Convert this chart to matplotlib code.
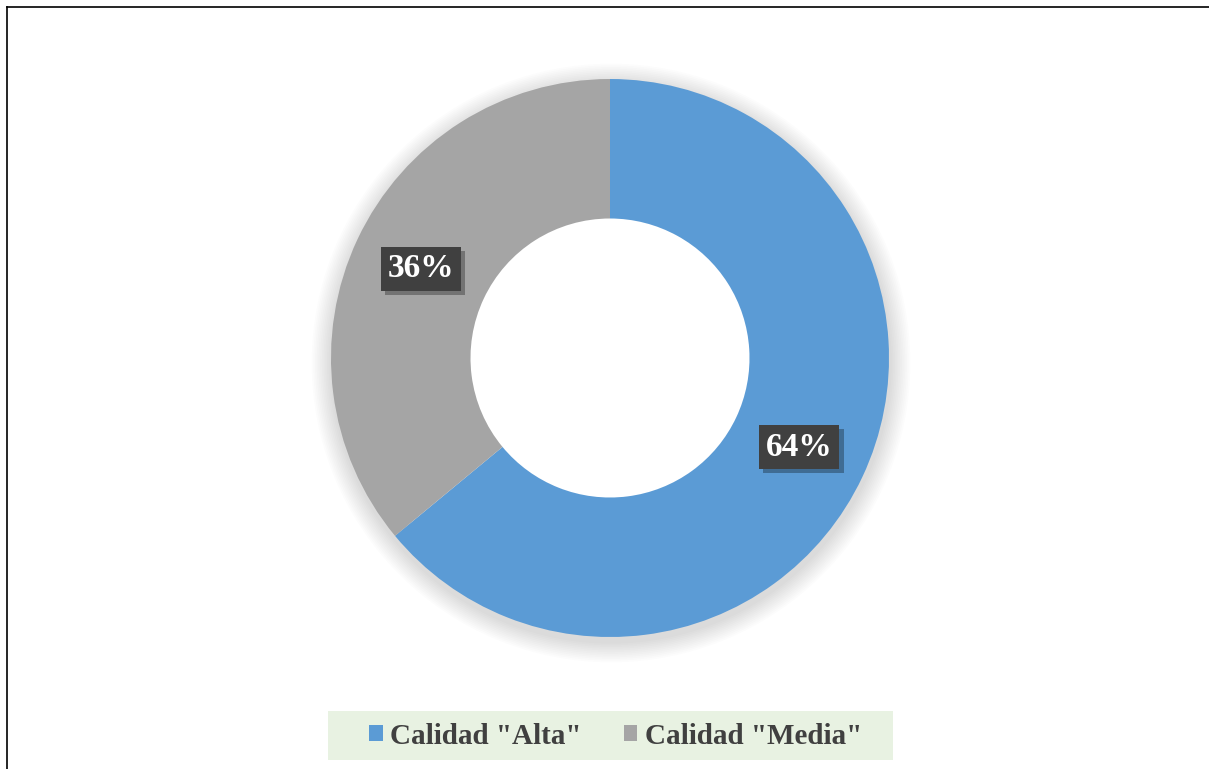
import matplotlib
matplotlib.use('Agg')
import matplotlib.pyplot as plt
import matplotlib.patheffects as pe
from matplotlib.lines import Line2D
from matplotlib.patches import Wedge, Patch, Rectangle

# Data
labels = ['Calidad "Alta"', 'Calidad "Media"']
values = [64, 36]
colors = ['#5B9BD5', '#A5A5A5']

W, H = 1209, 769
fig = plt.figure(figsize=(W / 100, H / 100), dpi=100)
fig.patch.set_facecolor('white')
ax = fig.add_axes([0, 0, 1, 1])

cx, cy = 610, H - 358
R = 279

# Soft shadow outside the ring (slightly below)
for k in range(12, 0, -1):
    ax.add_patch(Wedge((cx + 1, cy - 5), R + k * 1.7, 0, 360, width=k * 1.7 + 20,
                       facecolor='black', edgecolor='none', alpha=0.010, zorder=1))

wedges, texts, autotexts = ax.pie(
    values, colors=colors, startangle=90, counterclock=False,
    radius=R, center=(cx, cy), frame=True,
    wedgeprops=dict(width=R * 0.5, edgecolor='none'),
    autopct='%1.0f%%', pctdistance=0.75,
)
for w in wedges:
    w.set_zorder(2)

for t in autotexts:
    t.set_fontfamily('Liberation Serif')
    t.set_fontweight('bold')
    t.set_fontsize(24)
    t.set_color('white')
    t.set_zorder(5)
    t.set_bbox(dict(boxstyle='square,pad=0.2', facecolor='#404040', edgecolor='none'))
    t.get_bbox_patch().set_path_effects([
        pe.withSimplePatchShadow(offset=(3, -3), shadow_rgbFace='#000000', alpha=0.3)])

ax.set_xlim(0, W)
ax.set_ylim(0, H)
ax.set_aspect('auto')
ax.axis('off')

# Legend background band
fig.add_artist(Rectangle((328 / W, 1 - 760 / H), (893 - 328) / W, 49 / H,
                         transform=fig.transFigure, facecolor='#E8F2E2',
                         edgecolor='none', zorder=0))

handles = [Patch(facecolor=c, edgecolor='none') for c in colors]
leg = fig.legend(handles, labels, loc='center', ncol=2,
                 bbox_to_anchor=(616 / W, 1 - 736 / H),
                 prop={'family': 'Liberation Serif', 'weight': 'bold', 'size': 21},
                 frameon=False, handlelength=0.45, handleheight=0.45,
                 handletextpad=0.27, columnspacing=1.45, borderpad=0, borderaxespad=0)
for t in leg.get_texts():
    t.set_color('#404040')

# Outer border (top and left)
fig.add_artist(Line2D([7 / W, 1], [1 - 7 / H, 1 - 7 / H], color='black', lw=1.2))
fig.add_artist(Line2D([7 / W, 7 / W], [0, 1 - 7 / H], color='black', lw=1.2))

fig.savefig('out.png', dpi=100, facecolor='white')
